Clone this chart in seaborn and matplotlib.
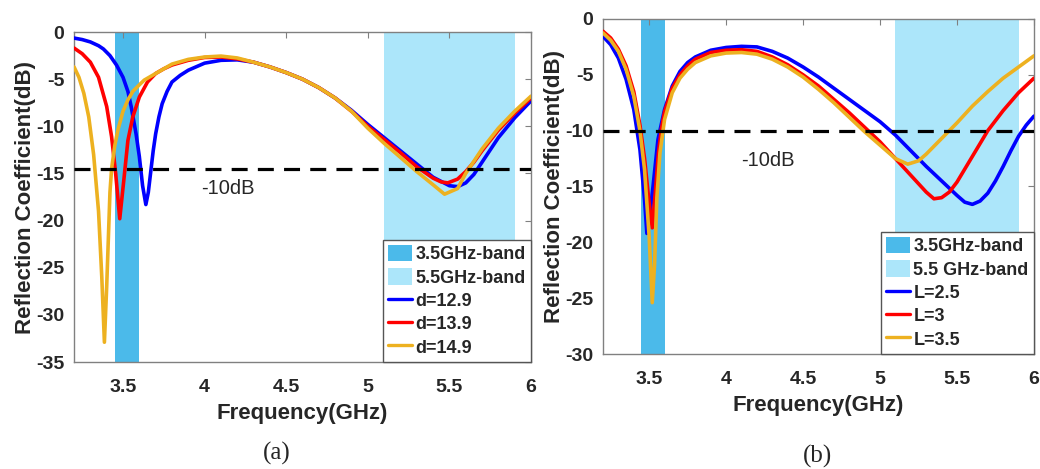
import numpy as np
import pandas as pd
import matplotlib
matplotlib.use("Agg")
import matplotlib.pyplot as plt
import seaborn as sns
from matplotlib.patches import Patch
from matplotlib.lines import Line2D

# ---------------- data: panel (a) ----------------
freq_d129 = [3.2, 3.25, 3.3, 3.35, 3.38, 3.42, 3.46, 3.5, 3.53, 3.55, 3.58, 3.6, 3.62, 3.64,
             3.655, 3.67, 3.685, 3.7, 3.72, 3.74, 3.77, 3.8, 3.85, 3.9, 4.0, 4.1, 4.2, 4.3, 4.4, 4.5, 4.6, 4.7, 4.8,
             4.9, 5.0, 5.1, 5.2, 5.3, 5.4, 5.5, 5.55, 5.6, 5.65, 5.7, 5.75, 5.8, 5.9, 6.0]
s11_d129 = [-0.64, -0.8, -1.05, -1.45, -1.8, -2.5, -3.5, -4.8, -6.3, -7.9, -10.8, -13.2, -16.3, -18.3,
            -17.0, -14.8, -12.6, -10.8, -9.0, -7.6, -6.3, -5.3, -4.6, -4.05, -3.3, -3.0, -2.95, -3.2, -3.7, -4.3, -5.0, -5.9, -7.0,
            -8.3, -9.8, -11.2, -12.6, -14.0, -15.4, -16.3, -16.4, -16.0, -15.1, -13.8, -12.5, -11.2, -9.1, -7.3]

freq_d139 = [3.2, 3.25, 3.3, 3.35, 3.4, 3.43, 3.455, 3.48, 3.505, 3.53, 3.56, 3.6, 3.65, 3.7,
             3.75, 3.8, 3.9, 4.0, 4.1, 4.2, 4.3, 4.4, 4.5, 4.6, 4.7, 4.8, 4.9, 5.0, 5.1, 5.2, 5.3,
             5.4, 5.45, 5.49, 5.55, 5.6, 5.65, 5.7, 5.8, 5.9, 6.0]
s11_d139 = [-1.7, -2.3, -3.2, -4.8, -7.9, -11.1, -15.0, -19.8, -15.7, -11.5, -9.0, -6.9, -5.3, -4.4,
            -3.9, -3.5, -3.0, -2.7, -2.65, -2.85, -3.2, -3.7, -4.3, -5.0, -5.9, -7.0, -8.4, -10.0, -11.4, -12.8, -14.3,
            -15.5, -15.9, -16.0, -15.6, -14.8, -13.8, -12.6, -10.4, -8.6, -7.0]

freq_d149 = [3.2, 3.23, 3.26, 3.29, 3.32, 3.35, 3.37, 3.386, 3.40, 3.42, 3.43, 3.45, 3.47, 3.5,
             3.53, 3.56, 3.6, 3.63, 3.7, 3.8, 3.9, 4.0, 4.1, 4.2, 4.3, 4.4, 4.5, 4.6, 4.7, 4.8,
             4.9, 5.0, 5.1, 5.2, 5.3, 5.4, 5.47, 5.55, 5.6, 5.7, 5.8, 5.9, 6.0]
s11_d149 = [-3.7, -4.8, -6.5, -9.0, -13.0, -19.0, -26.0, -32.9, -27.0, -17.0, -14.5, -12.0, -10.3, -8.4,
            -7.2, -6.3, -5.6, -5.1, -4.4, -3.4, -2.9, -2.65, -2.55, -2.75, -3.2, -3.7, -4.3, -5.0, -5.9, -7.0,
            -8.4, -10.2, -11.8, -13.3, -14.8, -16.2, -17.2, -16.6, -15.0, -12.4, -10.2, -8.4, -6.8]

# ---------------- data: panel (b) ----------------
freq_L25 = [3.2, 3.25, 3.3, 3.35, 3.4, 3.44, 3.47, 3.485, 3.505, 3.525, 3.557, 3.6, 3.65, 3.7,
            3.75, 3.8, 3.9, 4.0, 4.1, 4.2, 4.3, 4.4, 4.5, 4.6, 4.7, 4.8, 4.9, 5.0, 5.1, 5.2, 5.3,
            5.4, 5.5, 5.55, 5.6, 5.65, 5.7, 5.75, 5.8, 5.85, 5.9, 5.95, 6.0]
s11_L25 = [-1.55, -2.3, -3.5, -5.4, -8.1, -11.7, -16.2, -19.2, -17.5, -15.0, -10.8, -8.1, -6.0, -4.7,
           -3.9, -3.4, -2.8, -2.55, -2.45, -2.5, -2.9, -3.5, -4.3, -5.2, -6.2, -7.2, -8.2, -9.2, -10.4, -11.8, -13.2,
           -14.5, -15.8, -16.4, -16.6, -16.3, -15.6, -14.5, -13.2, -11.8, -10.5, -9.5, -8.7]

freq_L3 = [3.2, 3.25, 3.3, 3.35, 3.4, 3.44, 3.47, 3.5, 3.52, 3.54, 3.56, 3.58, 3.6, 3.65,
           3.7, 3.75, 3.8, 3.9, 4.0, 4.1, 4.2, 4.3, 4.4, 4.5, 4.6, 4.7, 4.8, 4.9, 5.0, 5.1, 5.2,
           5.3, 5.35, 5.4, 5.45, 5.5, 5.6, 5.7, 5.8, 5.9, 6.0]
s11_L3 = [-1.1, -1.7, -2.7, -4.2, -6.5, -9.5, -12.5, -16.5, -18.7, -15.5, -12.0, -9.8, -8.3, -6.2,
          -5.0, -4.2, -3.6, -3.0, -2.8, -2.75, -2.9, -3.4, -4.1, -5.0, -6.0, -7.2, -8.4, -9.7, -11.0, -12.5, -14.0,
          -15.5, -16.1, -16.0, -15.5, -14.6, -12.3, -10.0, -8.2, -6.6, -5.3]

freq_L35 = [3.2, 3.25, 3.3, 3.35, 3.4, 3.44, 3.47, 3.5, 3.52, 3.535, 3.55, 3.57, 3.6, 3.65,
            3.7, 3.75, 3.8, 3.9, 4.0, 4.1, 4.2, 4.3, 4.4, 4.5, 4.6, 4.7, 4.8, 4.9, 5.0, 5.1, 5.18,
            5.25, 5.3, 5.4, 5.5, 5.6, 5.7, 5.8, 5.9, 6.0]
s11_L35 = [-1.25, -1.9, -2.9, -4.5, -6.9, -10.0, -13.5, -19.5, -25.4, -22.0, -16.0, -12.0, -9.0, -6.6,
           -5.3, -4.5, -3.9, -3.3, -3.05, -3.0, -3.15, -3.6, -4.3, -5.2, -6.3, -7.5, -8.8, -10.1, -11.3, -12.5, -13.0,
           -12.7, -12.1, -10.7, -9.3, -7.8, -6.5, -5.3, -4.3, -3.3]

labels_a = ["d=12.9", "d=13.9", "d=14.9"]
labels_b = ["L=2.5", "L=3", "L=3.5"]
band_labels_a = ["3.5GHz-band", "5.5GHz-band"]
band_labels_b = ["3.5GHz-band", "5.5 GHz-band"]
band1 = (3.45, 3.6)
band2 = (5.1, 5.9)
ref_a = -14.5
ref_b = -10.0
ref_text = "-10dB"

line_colors = ["#0000FF", "#FF0000", "#EDB120"]
band_colors = ["#4BBAEA", "#ACE6FA"]

def make_df(freqs, vals, labels):
    rows = []
    for f, v, lab in zip(freqs, vals, labels):
        rows.append(pd.DataFrame({"freq": f, "s11": v, "series": lab}))
    return pd.concat(rows, ignore_index=True)

df_a = make_df([freq_d129, freq_d139, freq_d149], [s11_d129, s11_d139, s11_d149], labels_a)
df_b = make_df([freq_L25, freq_L3, freq_L35], [s11_L25, s11_L3, s11_L35], labels_b)

sns.set_style("white")
plt.rcParams["font.family"] = ["Liberation Sans", "DejaVu Sans"]
plt.rcParams["font.weight"] = "bold"

fig = plt.figure(figsize=(10.4, 4.69), dpi=100)
ax_a = fig.add_axes([0.0712, 0.2281, 0.4394, 0.7036])
ax_b = fig.add_axes([0.5798, 0.2452, 0.4144, 0.7143])

def draw(ax, df, labels, band_labels, ylim, yticks, ref, txt_pos):
    ax.axvspan(*band1, color=band_colors[0], lw=0, zorder=0)
    ax.axvspan(*band2, color=band_colors[1], lw=0, zorder=0)
    sns.lineplot(data=df, x="freq", y="s11", hue="series", hue_order=labels,
                 palette=line_colors, sort=False, estimator=None, lw=2.6,
                 legend=False, ax=ax, zorder=3)
    ax.axhline(ref, color="black", ls=(0, (5, 3.2)), lw=2.3, zorder=4)
    ax.text(txt_pos[0], txt_pos[1], ref_text, fontsize=14.5, fontweight="normal",
            ha="center", va="center", zorder=5)
    ax.set_xlim(3.2, 6)
    ax.set_ylim(*ylim)
    ax.set_xticks([3.5, 4, 4.5, 5, 5.5, 6])
    ax.set_xticklabels(["3.5", "4", "4.5", "5", "5.5", "6"])
    ax.set_yticks(yticks)
    ax.set_yticklabels([str(t) for t in yticks])
    ax.tick_params(direction="in", length=4, width=0.8, color="#808080",
                   top=True, right=True, labelsize=14)
    ax.tick_params(axis="x", pad=12)
    ax.tick_params(axis="y", pad=7)
    for lab in ax.get_xticklabels() + ax.get_yticklabels():
        lab.set_fontweight("bold")
    for sp in ax.spines.values():
        sp.set_color("#808080")
        sp.set_linewidth(1.0)
    ax.set_xlabel("Frequency(GHz)", fontsize=16, fontweight="bold", labelpad=5)
    ax.set_ylabel("Reflection Coefficient(dB)", fontsize=16, fontweight="bold", labelpad=0)
    handles = [Patch(facecolor=band_colors[0], edgecolor="none", label=band_labels[0]),
               Patch(facecolor=band_colors[1], edgecolor="none", label=band_labels[1])]
    for c, lab in zip(line_colors, labels):
        handles.append(Line2D([0], [0], color=c, lw=2.4, label=lab))
    leg = ax.legend(handles=handles, loc="lower right", borderaxespad=0.0,
                    fancybox=False, framealpha=1, edgecolor="#555555",
                    prop={"size": 13, "weight": "bold"}, handlelength=1.3,
                    handleheight=1.0, handletextpad=0.2, labelspacing=0.28,
                    borderpad=0.3)
    leg.get_frame().set_linewidth(1.0)
    leg.set_zorder(10)

draw(ax_a, df_a, labels_a, band_labels_a, (-35, 0), [-35, -30, -25, -20, -15, -10, -5, 0], ref_a, (4.145, -16.6))
draw(ax_b, df_b, labels_b, band_labels_b, (-30, 0), [-30, -25, -20, -15, -10, -5, 0], ref_b, (4.27, -12.7))

fig.text(277 / 1040, 1 - 453 / 469, "(a)", fontsize=18, fontweight="normal",
         family=["Liberation Serif", "DejaVu Serif"], ha="center", va="center")
fig.text(817 / 1040, 1 - 456 / 469, "(b)", fontsize=18, fontweight="normal",
         family=["Liberation Serif", "DejaVu Serif"], ha="center", va="center")

fig.savefig("out.png", dpi=100)
